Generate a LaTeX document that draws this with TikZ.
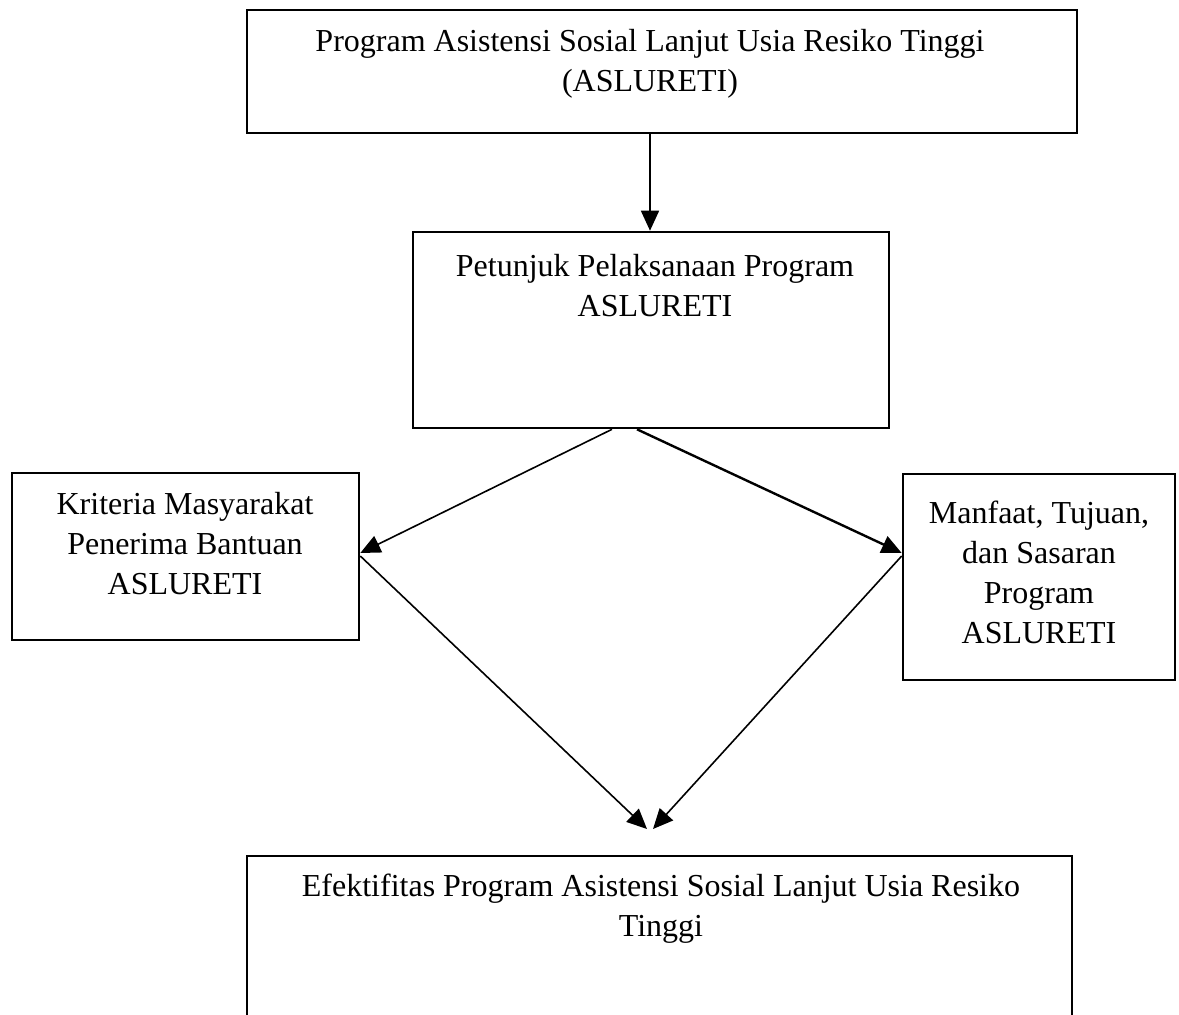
\documentclass[tikz,border=0pt]{standalone}
\usepackage{fontspec}
\setmainfont{Liberation Serif}
\usetikzlibrary{arrows.meta,calc}
\begin{document}
\begin{tikzpicture}[x=1pt,y=-1pt,
  box/.style={draw,line width=2.6pt,rectangle,inner sep=0pt},
  lbl/.style={anchor=north,align=center,inner sep=0pt,font=\fontsize{32}{40}\selectfont},
  conn/.style={line width=1.6pt,-{Triangle[length=20pt,width=18pt]}}]
\useasboundingbox (0,0) rectangle (1179,1015);
% boxes
\node[box,minimum width=830pt,minimum height=123pt] (top) at (662,71.5) {};
\node[box,minimum width=476pt,minimum height=196pt] (mid) at (651,330) {};
\node[box,minimum width=347pt,minimum height=167pt] (left) at (185.5,556.5) {};
\node[box,minimum width=272pt,minimum height=206pt] (right) at (1039,577) {};
\node[box,minimum width=825pt,minimum height=200pt] (bot) at (659.5,956) {};
% texts
\node[lbl] (toptext) at (650,29) {Program Asistensi Sosial Lanjut Usia Resiko Tinggi\\(ASLURETI)};
\node[lbl] (midtext) at (655,254) {Petunjuk Pelaksanaan Program\\ASLURETI};
\node[lbl] (lefttext) at (185,492) {Kriteria Masyarakat\\Penerima Bantuan\\ASLURETI};
\node[lbl] (righttext) at (1039,501) {Manfaat, Tujuan,\\dan Sasaran\\Program\\ASLURETI};
\node[lbl] (bottext) at (661,874) {Efektifitas Program Asistensi Sosial Lanjut Usia Resiko\\Tinggi};
% connectors
\coordinate (meetL) at (647,829);
\coordinate (meetR) at (653,829);
\draw[conn] (top.south -| 650,0) -- (mid.north -| 650,0);
\draw[conn] ([xshift=-39pt]mid.south) -- ([yshift=3.5pt]left.east);
\draw[conn,line width=2.4pt] ([xshift=-14pt]mid.south) -- ([yshift=24pt]right.west);
\draw[conn] ([yshift=0.5pt]left.east) -- (meetL);
\draw[conn] ([yshift=21pt]right.west) -- (meetR);
\end{tikzpicture}
\end{document}
